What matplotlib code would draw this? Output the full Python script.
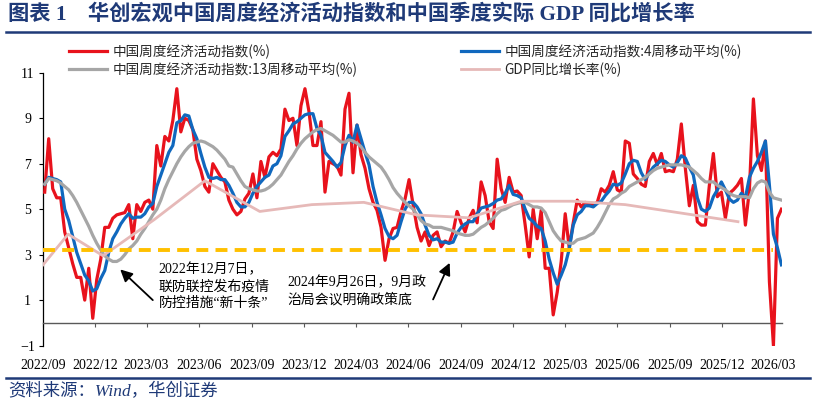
import pandas as pd
import matplotlib
matplotlib.use('Agg')
import matplotlib.pyplot as plt
import matplotlib.dates as mdates
from matplotlib.lines import Line2D

# weekly index values (%)
weeks = pd.date_range('2022-09-04', periods=185, freq='7D')
activity = [
    5.75, 8.1, 5.9, 5.5, 5.5, 4.0, 3.3, 2.6, 2.0, 2.0,
    1.0, 2.4, 0.2, 1.9, 2.8, 4.2, 4.2, 4.6, 4.75, 4.8,
    4.85, 5.2, 3.7, 5.2, 4.9, 5.3, 5.4, 5.0, 7.8, 6.9,
    8.2, 8.0, 8.9, 10.3, 8.4, 9.0, 8.9, 8.5, 7.2, 6.7,
    6.0, 5.75, 7.0, 6.7, 6.4, 6.2, 5.4, 5.0, 4.75, 4.9,
    5.45, 5.7, 6.55, 5.5, 7.1, 6.4, 7.3, 7.5, 7.35, 7.65,
    9.4, 8.9, 9.0, 7.8, 9.55, 10.3, 9.3, 7.8, 7.8, 8.85,
    5.75, 7.1, 7.0, 6.9, 6.5, 9.4, 10.1, 6.6, 8.7, 7.4,
    6.8, 5.9, 5.3, 4.95, 4.2, 2.75, 3.7, 4.15, 4.2, 4.9,
    5.45, 6.3, 5.2, 4.2, 3.6, 4.0, 3.4, 3.85, 4.0, 3.35,
    3.6, 3.5, 4.0, 4.9, 4.4, 4.0, 4.6, 4.95, 4.4, 6.2,
    5.6, 4.45, 4.15, 7.2, 5.9, 5.3, 6.4, 5.75, 5.8, 5.6,
    4.3, 2.9, 5.0, 3.7, 4.95, 2.4, 2.4, 0.35, 1.35, 2.7,
    4.8, 3.3, 4.4, 5.4, 5.1, 5.3, 5.2, 5.2, 5.3, 5.9,
    5.75, 6.05, 6.65, 5.85, 5.75, 8.0, 7.9, 6.55, 6.35, 6.1,
    6.0, 7.1, 7.45, 6.95, 7.45, 6.65, 6.7, 6.65, 7.2, 8.75,
    6.8, 5.15, 6.05, 4.45, 4.3, 4.3, 6.05, 7.45, 5.55, 5.75,
    4.6, 5.7, 5.85, 6.05, 6.35, 4.3, 5.85, 9.85, 7.35, 6.7,
    8.0, 1.8, -1.0, 4.6, 5.0,
]
activity_ma4 = [
    6.1, 6.4, 6.35, 6.3, 6.2, 5.0, 4.5, 3.8, 3.1, 2.6,
    2.1, 1.85, 1.4, 1.5, 1.95, 2.3, 3.1, 3.7, 4.0, 4.35,
    4.6, 4.8, 4.6, 4.65, 4.65, 4.8, 5.1, 5.25, 6.0, 6.5,
    7.0, 7.5, 7.8, 8.8, 8.9, 9.15, 9.1, 8.5, 8.1, 7.45,
    6.85, 6.4, 6.35, 6.4, 6.3, 6.3, 6.05, 5.7, 5.3, 5.1,
    5.1, 5.3, 5.7, 6.0, 6.2, 6.4, 6.5, 6.9, 7.0, 7.35,
    8.2, 8.45, 8.75, 8.85, 9.0, 9.15, 9.2, 9.2, 8.55, 8.25,
    7.5, 7.3, 7.1, 6.85, 7.05, 7.8, 8.25, 7.95, 8.7, 8.1,
    7.5, 6.95, 6.0, 5.3, 4.75, 4.15, 3.8, 3.7, 3.85, 4.45,
    5.0, 5.3, 5.3, 5.1, 4.8, 4.3, 3.85, 3.65, 3.7, 3.55,
    3.55, 3.5, 3.55, 3.95, 4.2, 4.35, 4.45, 4.45, 4.8, 5.05,
    5.1, 5.15, 5.25, 5.4, 5.45, 5.7, 6.05, 5.65, 5.6, 5.5,
    5.0, 4.6, 4.45, 4.25, 4.15, 3.6, 2.8, 2.2, 1.7, 2.1,
    2.55, 3.25, 4.3, 4.75, 4.9, 5.15, 5.15, 5.1, 5.25, 5.35,
    5.6, 5.8, 6.1, 6.05, 6.15, 6.55, 7.0, 7.15, 7.1, 6.6,
    6.3, 6.6, 6.85, 7.0, 7.15, 7.1, 6.95, 6.85, 7.05, 7.35,
    7.25, 6.85, 6.5, 5.5, 5.0, 4.9, 5.05, 5.55, 5.85, 6.2,
    5.85, 5.45, 5.3, 5.4, 5.7, 5.5, 6.4, 6.8, 7.1, 7.5,
    8.0, 6.05, 3.9, 3.3, 2.55,
]
activity_ma13 = [
    6.1, 6.35, 6.3, 6.25, 6.15, 6.0, 5.85, 5.6, 5.3, 4.95,
    4.6, 4.25, 3.85, 3.5, 3.2, 2.95, 2.8, 2.7, 2.7, 2.8,
    3.0, 3.25, 3.4, 3.6, 3.9, 4.15, 4.45, 4.75, 5.0, 5.4,
    5.9, 6.3, 6.65, 7.0, 7.3, 7.55, 7.75, 7.9, 7.95, 8.0,
    7.95, 7.85, 7.75, 7.6, 7.4, 7.2, 6.9, 6.85, 6.55, 6.25,
    6.0, 5.9, 5.85, 5.8, 5.8, 5.85, 5.95, 6.1, 6.3, 6.5,
    6.8, 7.1, 7.35, 7.65, 7.9, 8.1, 8.25, 8.4, 8.5, 8.55,
    8.45, 8.35, 8.25, 8.1, 7.95, 7.95, 8.05, 8.0, 7.9, 7.75,
    7.5, 7.3, 7.15, 7.0, 6.85, 6.6, 6.3, 5.95, 5.7, 5.5,
    5.3, 5.15, 5.0, 4.75, 4.5, 4.35, 4.3, 4.2, 4.2, 4.2,
    4.15, 4.1, 4.05, 3.95, 3.9, 3.85, 3.85, 3.9, 4.05, 4.2,
    4.3, 4.45, 4.6, 4.8, 4.95, 5.0, 5.1, 5.2, 5.25, 5.3,
    5.3, 5.2, 5.1, 5.1, 5.05, 4.85, 4.45, 4.05, 3.8, 3.6,
    3.55, 3.5, 3.5, 3.65, 3.7, 3.75, 3.85, 3.95, 4.2, 4.5,
    4.85, 5.2, 5.45, 5.55, 5.7, 5.8, 6.0, 6.1, 6.2, 6.3,
    6.4, 6.55, 6.7, 6.8, 6.85, 6.9, 6.95, 6.95, 6.95, 6.95,
    6.9, 6.85, 6.7, 6.55, 6.35, 6.2, 6.2, 6.2, 6.05, 5.95,
    5.85, 5.7, 5.6, 5.55, 5.55, 5.55, 5.5, 5.9, 6.15, 6.25,
    6.2, 5.75, 5.5, 5.45, 5.4,
]

# quarterly GDP yoy (%)
gdp_dates = pd.to_datetime([
    '2022-09-01', '2022-10-15', '2022-12-15', '2023-03-15', '2023-06-11',
    '2023-09-15', '2023-12-15', '2024-03-15', '2024-06-15', '2024-09-15',
    '2024-12-15', '2025-03-15', '2025-06-15', '2025-09-15', '2025-12-29',
])
gdp_yoy = [2.55, 3.9, 2.95, 4.55, 6.25, 4.9, 5.2, 5.3, 4.75, 4.62,
           5.35, 5.35, 5.2, 4.85, 4.45]

# dashed reference level
ref_level = 3.2
ref_span = pd.to_datetime(['2022-09-01', '2026-03-01'])

RED = '#E8121C'
BLUE = '#1068BE'
GRAY = '#A6A6A6'
PINK = '#E6B9B8'
GOLD = '#FFC000'
NAVY = '#1F3A78'

SERIF_CJK = ['Liberation Serif', 'Noto Sans CJK SC']
SANS_CJK = ['Noto Sans CJK SC', 'DejaVu Sans']

plt.rcParams['lines.scale_dashes'] = False

fig = plt.figure(figsize=(8.14, 4.08), dpi=100)
ax = fig.add_axes([0.0528, 0.1530, 0.9079, 0.6686])

l1, = ax.plot(weeks, activity, color=RED, lw=2.3, zorder=3)
l2, = ax.plot(weeks, activity_ma4, color=BLUE, lw=2.3, zorder=4)
l3, = ax.plot(weeks, activity_ma13, color=GRAY, lw=2.3, zorder=5)
l4, = ax.plot(gdp_dates, gdp_yoy, color=PINK, lw=2.0, zorder=6)
ax.plot(ref_span, [ref_level, ref_level], color=GOLD, lw=2.8,
        dashes=(8.6, 5.2), zorder=7)

ax.set_ylim(-1, 11)
ax.set_yticks([-1, 1, 3, 5, 7, 9, 11])
ax.set_xlim(pd.Timestamp('2022-09-01'), pd.Timestamp('2026-03-16'))
ax.xaxis.set_major_locator(mdates.MonthLocator(bymonth=[3, 6, 9, 12]))
ax.xaxis.set_major_formatter(mdates.DateFormatter('%Y/%m'))

ax.spines['top'].set_visible(False)
ax.spines['right'].set_visible(False)
ax.spines['bottom'].set_position(('data', 0))
ax.spines['bottom'].set_color('#595959')
ax.spines['bottom'].set_linewidth(1.0)
ax.spines['left'].set_color('black')
ax.spines['left'].set_linewidth(0.9)
ax.tick_params(axis='x', direction='out', length=3, color='#595959', pad=23)
ax.tick_params(axis='y', direction='out', length=3, pad=8)
for lab in ax.get_xticklabels() + ax.get_yticklabels():
    lab.set_fontfamily(SERIF_CJK)
    lab.set_fontsize(10)
    lab.set_color('black')
for lab in ax.get_yticklabels():
    lab.set_horizontalalignment('center')

leg = ax.legend([l1, l3, l2, l4],
                ['中国周度经济活动指数(%)', '中国周度经济活动指数:13周移动平均(%)',
                 '中国周度经济活动指数:4周移动平均(%)', 'GDP同比增长率(%)'],
                ncol=2, loc='lower left', bbox_to_anchor=(0.019, 0.94),
                frameon=False, handlelength=2.8, handletextpad=0.35,
                columnspacing=7.65, labelspacing=0.25,
                prop={'family': SANS_CJK, 'size': 9.8})
for t in leg.get_texts():
    t.set_color('#262626')

# annotations
ax.annotate('', xy=(pd.Timestamp('2023-01-14'), 2.35),
            xytext=(pd.Timestamp('2023-03-12'), 1.0),
            arrowprops=dict(arrowstyle='-|>', color='black', lw=1.3,
                            mutation_scale=18, shrinkA=0, shrinkB=0))
ax.text(pd.Timestamp('2023-03-22'), 2.65,
        '2022年12月7日，\n联防联控发布疫情\n防控措施“新十条”',
        fontsize=10, family=SERIF_CJK, va='top', ha='left', linespacing=1.35)
ax.annotate('', xy=(pd.Timestamp('2024-08-12'), 2.64),
            xytext=(pd.Timestamp('2024-07-14'), 1.03),
            arrowprops=dict(arrowstyle='-|>', color='black', lw=1.3,
                            mutation_scale=18, shrinkA=0, shrinkB=0))
ax.text(pd.Timestamp('2023-11-03'), 2.08,
        '2024年9月26日，9月政\n治局会议明确政策底',
        fontsize=10, family=SERIF_CJK, va='top', ha='left', linespacing=1.35)

# title, rules and source
fig.text(8 / 814, 1 - 14 / 408, '图表 1　华创宏观中国周度经济活动指数和中国季度实际 GDP 同比增长率',
         fontsize=15.3, fontweight='bold', color=NAVY, family=SERIF_CJK,
         va='center', ha='left')
fig.add_artist(Line2D([6 / 814, 810 / 814], [1 - 32 / 408, 1 - 32 / 408],
                      transform=fig.transFigure, color=NAVY, lw=1.8))
fig.add_artist(Line2D([6 / 814, 810 / 814], [1 - 378 / 408, 1 - 378 / 408],
                      transform=fig.transFigure, color=NAVY, lw=1.8))
fig.text(8 / 814, 1 - 392 / 408, '资料来源：Wind，华创证券', fontsize=12.5,
         style='italic', color=NAVY, family=SERIF_CJK, va='center', ha='left')

fig.savefig('out.png', dpi=100)
